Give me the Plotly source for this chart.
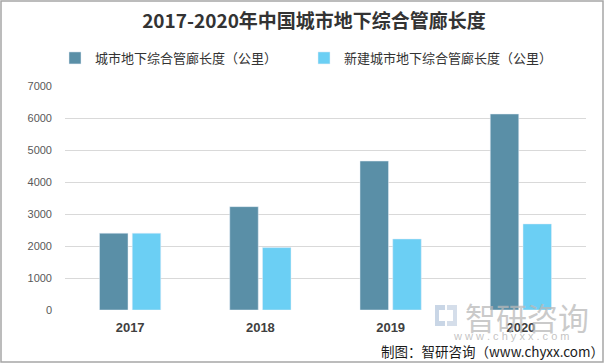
import plotly.graph_objects as go

years = ["2017", "2018", "2019", "2020"]
total_len = [2400, 3230, 4655, 6125]
new_len = [2400, 1950, 2220, 2690]
series_names = ["城市地下综合管廊长度（公里）", "新建城市地下综合管廊长度（公里）"]
y_ticks = [0, 1000, 2000, 3000, 4000, 5000, 6000, 7000]

W, H = 605, 364
ML, MR, MT, MB = 65, 19, 86, 54
PW, PH = W - ML - MR, H - MT - MB

def px(x):
    return (x - ML) / PW

def py(y):
    return (H - MB - y) / PH

CJK = "Noto Sans CJK SC"
dark = "#5A8FA7"
light = "#6BCFF4"

fig = go.Figure()
fig.add_trace(go.Bar(x=years, y=total_len, name=series_names[0], marker_color=dark))
fig.add_trace(go.Bar(x=years, y=new_len, name=series_names[1], marker_color=light))

shapes = [
    dict(type="rect", xref="paper", yref="paper", x0=px(1), x1=px(603), y0=py(1), y1=py(362),
         line=dict(color="#A6A6A6", width=1.5), fillcolor="rgba(0,0,0,0)", layer="above"),
]
# watermark logo
logo_col = "#C9D6E6"
shapes += [
    dict(type="rect", xref="paper", yref="paper", x0=px(435), x1=px(445), y0=py(305), y1=py(326),
         line=dict(width=0), fillcolor=logo_col, layer="above"),
    dict(type="rect", xref="paper", yref="paper", x0=px(447), x1=px(457), y0=py(305), y1=py(326),
         line=dict(width=0), fillcolor="#D5DEEA", layer="above"),
    dict(type="rect", xref="paper", yref="paper", x0=px(439), x1=px(445), y0=py(310), y1=py(321),
         line=dict(width=0), fillcolor="white", layer="above"),
    dict(type="rect", xref="paper", yref="paper", x0=px(447), x1=px(453), y0=py(310), y1=py(321),
         line=dict(width=0), fillcolor="white", layer="above"),
]

annotations = [
    dict(text="智研咨询", xref="paper", yref="paper", x=px(527), y=py(316), showarrow=False,
         font=dict(family=CJK, size=31, color="rgba(185,185,185,0.75)"), xanchor="center", yanchor="middle"),
    dict(text="w w w . c h y x x . c o m", xref="paper", yref="paper", x=px(511), y=py(336), showarrow=False,
         font=dict(family="Arial", size=11, color="rgba(180,180,180,0.8)"), xanchor="center", yanchor="middle"),
    dict(text="制图：智研咨询（www.chyxx.com）", xref="paper", yref="paper", x=px(606), y=py(351), showarrow=False,
         font=dict(family=CJK, size=13.5, color="#1a1a1a"), xanchor="right", yanchor="middle"),
]

fig.update_layout(
    width=W, height=H,
    margin=dict(l=ML, r=MR, t=MT, b=MB),
    paper_bgcolor="white", plot_bgcolor="white",
    title=dict(text="<b>2017-2020年中国城市地下综合管廊长度</b>", x=314 / W, xanchor="center",
               y=1 - 21 / H, yanchor="middle",
               font=dict(family=CJK, size=19, color="#333333")),
    barmode="group", bargap=0.497, bargroupgap=0.13,
    showlegend=True,
    legend=dict(orientation="h", x=px(55), xanchor="left", y=py(58), yanchor="middle",
                font=dict(family=CJK, size=13, color="#333333"), itemwidth=30,
                entrywidth=204, bgcolor="rgba(0,0,0,0)"),
    xaxis=dict(tickfont=dict(family="Liberation Sans", size=13, color="#404040", weight="bold"),
               showgrid=False, showline=False, ticks="", ticklabelstandoff=8),
    yaxis=dict(range=[0, 7000], tickvals=y_ticks, showgrid=True, gridcolor="#D9D9D9", gridwidth=1,
               zeroline=False, showline=False,
               tickfont=dict(family="Liberation Sans", size=11, color="#595959"),
               ticklabelstandoff=12),
    shapes=shapes, annotations=annotations,
)

fig.write_html("out.html", config={"displayModeBar": False},
               post_script="document.body.style.margin='0';document.body.style.padding='0';")
